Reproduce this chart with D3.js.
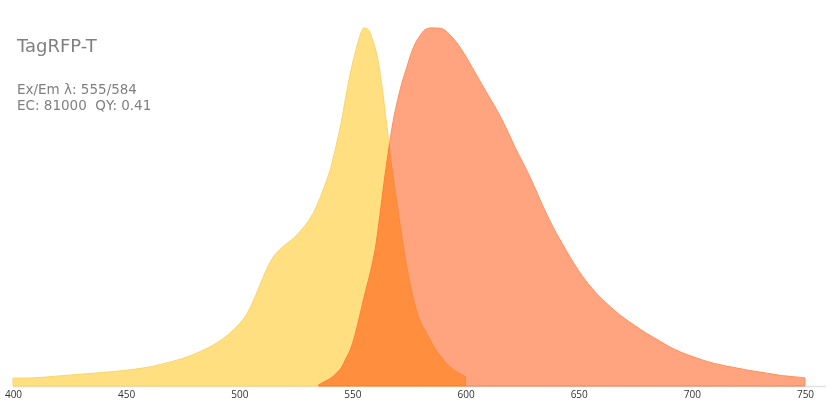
<!DOCTYPE html>
<html>
<head>
<meta charset="utf-8">
<script src="https://cdn.jsdelivr.net/npm/d3@7"></script>
<style>
  html, body { margin: 0; padding: 0; background: #fff; }
  svg { display: block; }
</style>
</head>
<body>
<svg id="chart" width="840" height="420"></svg>
<script>
// ---- data ----
const proteinName = "TagRFP-T";
const exEm = "Ex/Em λ: 555/584";
const ecQy = "EC: 81000  QY: 0.41";
const xTicks = [400, 450, 500, 550, 600, 650, 700, 750];

const exWavelength = [400,410,420,430,440,450,460,465,470,475,480,485,490,495,500,503,506,509,512,515,518,521,524,528,531,534,537,540,542,545,548,550,552,554,555,557,559,561,563,564,566,567,569,571,573,575,578,580,583,587,590,593,596,600];
const exValue      = [0.022,0.023,0.028,0.033,0.038,0.044,0.053,0.06,0.068,0.077,0.089,0.103,0.12,0.143,0.173,0.198,0.235,0.28,0.325,0.36,0.382,0.398,0.413,0.44,0.465,0.5,0.547,0.6,0.65,0.735,0.84,0.9,0.95,0.99,1.0,0.995,0.965,0.92,0.84,0.79,0.685,0.63,0.54,0.454,0.37,0.3,0.218,0.18,0.145,0.1,0.075,0.054,0.04,0.026];

const emWavelength = [535,537,540,542,545,547,549,551,553,555,556,558,560,562,564,566,568,570,572,574,576,578,580,582,584,586,588,590,592,594,596,598,600,602,604,607,610,613,616,619,622,625,628,631,634,637,640,643,646,650,654,658,662,666,670,675,680,686,690,695,700,705,710,715,720,725,730,735,740,745,750];
const emValue      = [0.003,0.01,0.02,0.03,0.05,0.075,0.1,0.14,0.19,0.245,0.27,0.32,0.38,0.47,0.57,0.66,0.74,0.8,0.85,0.89,0.93,0.96,0.98,0.995,1.0,1.0,1.0,0.997,0.988,0.975,0.96,0.942,0.922,0.9,0.878,0.845,0.812,0.78,0.745,0.706,0.665,0.628,0.59,0.548,0.505,0.465,0.428,0.395,0.362,0.322,0.287,0.258,0.233,0.21,0.19,0.168,0.147,0.125,0.11,0.095,0.083,0.072,0.063,0.056,0.05,0.044,0.039,0.034,0.029,0.026,0.023];

// ---- drawing ----
const svg = d3.select("#chart");
const x = d3.scaleLinear().domain([400, 750]).range([13, 805]);
const y = d3.scaleLinear().domain([0, 1]).range([386, 28]);

const exData = exWavelength.map((w, i) => ({w, v: exValue[i]}));
const emData = emWavelength.map((w, i) => ({w, v: emValue[i]}));

const area = d3.area()
  .x(d => x(d.w))
  .y0(y(0))
  .y1(d => y(d.v))
  .curve(d3.curveCatmullRom.alpha(0.5));

// axis baseline
svg.append("line")
  .attr("x1", x(400)).attr("x2", 826)
  .attr("y1", y(0) + 0.5).attr("y2", y(0) + 0.5)
  .attr("stroke", "#e0e0e0").attr("stroke-width", 1.5);

svg.append("path")
  .datum(exData)
  .attr("d", area)
  .attr("fill", "#ffdf80")
  .attr("stroke", "#fbd56a")
  .attr("stroke-width", 1);

svg.append("path")
  .datum(emData)
  .attr("d", area)
  .attr("fill", "#ffa47e")
  .attr("stroke", "#ff9060")
  .attr("stroke-width", 1)
  .style("mix-blend-mode", "multiply");

// x axis labels
const axis = d3.axisBottom(x).tickValues(xTicks).tickSize(0).tickPadding(5).tickFormat(d3.format("d"));
const gAxis = svg.append("g").attr("transform", `translate(0,${y(0)})`).call(axis);
gAxis.select(".domain").remove();
gAxis.selectAll("text")
  .attr("font-family", "'Open Sans', sans-serif")
  .attr("font-size", 10)
  .attr("fill", "#333");

// texts
svg.append("text").attr("x", 17).attr("y", 52)
  .attr("font-family", "'DejaVu Sans', sans-serif").attr("font-size", 18)
  .attr("fill", "#808080").text(proteinName);
svg.append("text").attr("x", 17).attr("y", 94)
  .attr("font-family", "'DejaVu Sans', sans-serif").attr("font-size", 13.5)
  .attr("fill", "#808080").text(exEm);
svg.append("text").attr("x", 17).attr("y", 109.5)
  .attr("font-family", "'DejaVu Sans', sans-serif").attr("font-size", 13.5)
  .attr("fill", "#808080").style("white-space", "pre").text(ecQy);
</script>
</body>
</html>
